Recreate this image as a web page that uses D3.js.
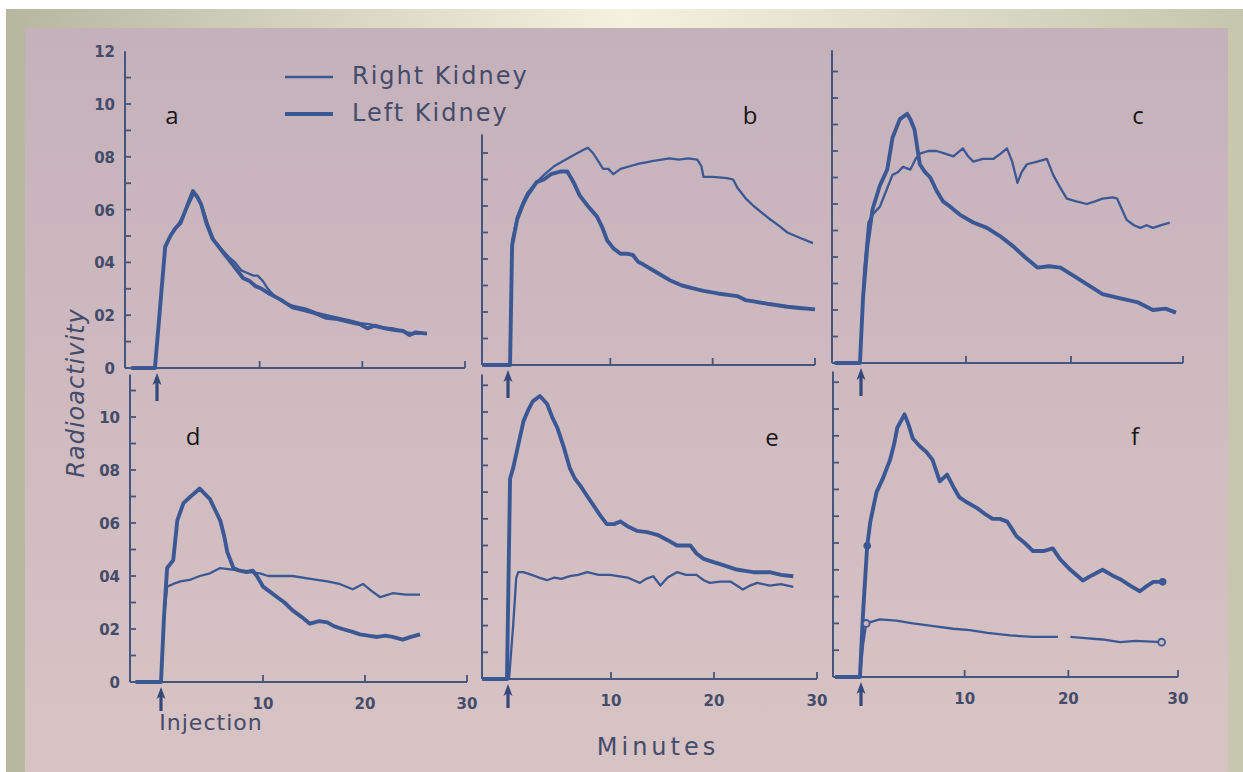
<!DOCTYPE html>
<html>
<head>
<meta charset="utf-8">
<script src="https://cdn.jsdelivr.net/npm/d3@7"></script>
<style>
  body { margin: 0; background: #fff; }
  svg { display: block; }
</style>
</head>
<body>
<div id="chart-area"></div>
<script>
// renogram panels a-f : [minutes, radioactivity]
const aRight = [[-2.5,0],[-0.2,0],[0.8,0.45],[1.4,0.51],[2.0,0.54],[2.6,0.58],[3.1,0.62],[3.6,0.66],[4.0,0.64],[4.5,0.60],[5.0,0.54],[5.6,0.48],[6.3,0.45],[7.0,0.42],[7.6,0.40],[8.2,0.37],[8.8,0.36],[9.4,0.35],[9.8,0.35],[10.3,0.33],[10.8,0.30],[11.5,0.27],[12.3,0.25],[13.3,0.235],[14.5,0.225],[15.5,0.21],[16.5,0.20],[17.7,0.19],[18.8,0.18],[19.8,0.17],[20.8,0.165],[21.8,0.155],[23.0,0.15],[24.2,0.135],[25.3,0.13],[26.3,0.13]]
const aLeft = [[-2.5,0],[-0.2,0],[0.8,0.46],[1.3,0.50],[1.8,0.53],[2.3,0.55],[2.8,0.60],[3.2,0.64],[3.5,0.67],[3.9,0.65],[4.3,0.62],[4.8,0.55],[5.4,0.49],[6.0,0.46],[6.6,0.43],[7.2,0.40],[7.8,0.37],[8.4,0.34],[9.0,0.33],[9.6,0.31],[10.2,0.30],[11.0,0.28],[12.0,0.26],[13.2,0.23],[14.2,0.22],[15.2,0.21],[16.5,0.19],[17.6,0.185],[18.7,0.175],[19.8,0.165],[20.5,0.15],[21.2,0.16],[22.2,0.15],[23.0,0.145],[24.0,0.14],[24.6,0.125],[25.2,0.135],[26.3,0.13]]

const bRight = [[-2.5,0],[0.2,0],[0.4,0.47],[0.9,0.56],[1.4,0.61],[1.9,0.65],[2.8,0.69],[3.6,0.72],[4.5,0.75],[5.4,0.77],[6.3,0.79],[7.3,0.81],[7.8,0.82],[8.3,0.80],[8.8,0.77],[9.3,0.74],[9.8,0.74],[10.3,0.72],[11.0,0.74],[11.9,0.75],[12.8,0.76],[13.5,0.765],[14.2,0.77],[15.0,0.775],[15.8,0.78],[16.7,0.775],[17.6,0.78],[18.5,0.775],[18.9,0.75],[19.1,0.71],[20.0,0.71],[21.4,0.705],[22.0,0.70],[22.4,0.67],[23.2,0.63],[24.0,0.60],[24.8,0.575],[25.6,0.55],[26.5,0.525],[27.3,0.50],[28.5,0.48],[29.8,0.46]]
const bLeft = [[-2.5,0],[0.2,0],[0.4,0.45],[0.9,0.55],[1.4,0.60],[1.9,0.64],[2.8,0.69],[3.5,0.70],[4.2,0.72],[5.1,0.73],[5.8,0.73],[6.4,0.69],[7.0,0.64],[7.8,0.60],[8.7,0.56],[9.2,0.52],[9.7,0.47],[10.3,0.44],[11.0,0.42],[11.6,0.42],[12.2,0.415],[12.7,0.39],[13.2,0.38],[14.5,0.35],[15.8,0.32],[17.0,0.30],[18.0,0.29],[19.1,0.28],[20.5,0.27],[22.4,0.26],[23.2,0.245],[24.0,0.24],[25.5,0.23],[27.3,0.22],[28.5,0.215],[30.0,0.21]]

const cRight = [[-2.5,0],[-0.1,0],[0.3,0.35],[0.7,0.53],[1.1,0.56],[1.8,0.59],[2.4,0.65],[3.0,0.71],[3.5,0.72],[4.0,0.74],[4.7,0.73],[5.2,0.77],[5.6,0.79],[6.4,0.80],[7.2,0.80],[8.0,0.79],[8.8,0.78],[9.7,0.81],[10.2,0.78],[10.7,0.76],[11.6,0.77],[12.6,0.77],[13.3,0.79],[13.9,0.81],[14.4,0.76],[14.9,0.68],[15.3,0.72],[15.8,0.75],[16.8,0.76],[17.7,0.77],[18.3,0.71],[19.0,0.66],[19.6,0.62],[20.5,0.61],[21.5,0.60],[22.3,0.61],[23.0,0.62],[24.0,0.625],[24.4,0.62],[25.3,0.54],[26.0,0.52],[26.6,0.51],[27.2,0.52],[27.8,0.51],[28.6,0.52],[29.4,0.53]]
const cLeft = [[-2.5,0],[-0.1,0],[0.2,0.25],[0.6,0.44],[1.1,0.58],[1.8,0.67],[2.5,0.73],[3.0,0.85],[3.4,0.89],[3.7,0.92],[4.4,0.94],[4.7,0.92],[5.1,0.88],[5.6,0.75],[6.1,0.72],[6.6,0.70],[7.2,0.65],[7.8,0.61],[8.5,0.59],[9.4,0.56],[10.7,0.53],[12.0,0.51],[13.2,0.48],[14.5,0.44],[15.6,0.40],[16.8,0.36],[17.9,0.365],[19.0,0.36],[20.6,0.32],[21.8,0.29],[23.0,0.26],[24.6,0.245],[26.3,0.23],[27.8,0.20],[29.0,0.205],[30.0,0.19]]

const dRight = [[-2.5,0],[0,0],[0.3,0.25],[0.6,0.36],[1.2,0.37],[1.9,0.38],[2.8,0.385],[3.8,0.40],[4.8,0.41],[5.8,0.43],[6.8,0.425],[7.7,0.42],[8.7,0.415],[9.7,0.41],[10.5,0.40],[11.4,0.40],[12.9,0.40],[14.5,0.39],[16.3,0.38],[17.5,0.37],[18.8,0.35],[19.8,0.37],[20.6,0.345],[21.5,0.32],[22.7,0.335],[24.0,0.33],[25.4,0.33]]
const dLeft = [[-2.5,0],[0,0],[0.3,0.25],[0.6,0.43],[1.2,0.46],[1.6,0.61],[2.2,0.675],[2.9,0.70],[3.5,0.72],[3.8,0.73],[4.3,0.71],[4.8,0.69],[5.3,0.65],[5.8,0.61],[6.2,0.55],[6.5,0.49],[7.1,0.43],[7.7,0.42],[8.4,0.415],[9.0,0.42],[9.4,0.40],[10.0,0.36],[10.7,0.34],[11.4,0.32],[12.1,0.30],[12.9,0.27],[13.8,0.245],[14.6,0.22],[15.5,0.23],[16.3,0.225],[17.0,0.21],[17.8,0.20],[18.7,0.19],[19.5,0.18],[20.3,0.175],[21.2,0.17],[22.0,0.175],[22.7,0.17],[23.7,0.16],[24.5,0.17],[25.4,0.18]]

const eRight = [[-2.5,0],[0.1,0],[0.5,0.2],[0.8,0.38],[1.0,0.40],[1.5,0.40],[2.3,0.39],[3.0,0.38],[3.8,0.37],[4.5,0.38],[5.2,0.375],[6.0,0.385],[6.8,0.39],[7.7,0.40],[8.8,0.39],[9.9,0.39],[10.7,0.385],[11.6,0.38],[12.2,0.37],[12.8,0.36],[13.4,0.375],[14.1,0.385],[14.8,0.35],[15.5,0.38],[16.4,0.40],[17.3,0.39],[18.3,0.39],[19.0,0.37],[19.6,0.36],[20.6,0.365],[21.6,0.365],[22.2,0.35],[22.8,0.335],[23.5,0.35],[24.2,0.36],[25.4,0.35],[26.5,0.355],[27.7,0.345]]
const eLeft = [[-2.5,0],[-0.1,0],[0.0,0.25],[0.2,0.75],[0.5,0.79],[0.9,0.86],[1.5,0.965],[2.0,1.01],[2.4,1.04],[3.1,1.06],[3.8,1.03],[4.3,0.98],[4.8,0.94],[5.4,0.87],[6.0,0.79],[6.5,0.75],[7.0,0.725],[7.6,0.69],[8.3,0.65],[9.0,0.61],[9.6,0.58],[10.3,0.58],[10.9,0.59],[11.7,0.57],[12.5,0.555],[13.5,0.55],[14.5,0.54],[15.5,0.52],[16.4,0.50],[17.7,0.50],[18.3,0.47],[19.0,0.45],[19.8,0.44],[20.6,0.43],[21.4,0.42],[22.2,0.41],[23.0,0.405],[23.8,0.40],[25.4,0.40],[26.5,0.39],[27.7,0.385]]

const fRight = [[-2.5,0],[-0.1,0],[0.2,0.12],[0.5,0.20],[1.8,0.215],[3.4,0.21],[5.0,0.20],[7.0,0.19],[8.9,0.18],[10.5,0.175],[12.2,0.165],[14.4,0.155],[16.6,0.15],[18.0,0.15],[19.0,0.15],[19.5,null],[20.2,0.15],[21.6,0.145],[23.3,0.14],[24.2,0.135],[25.0,0.13],[26.5,0.135],[29.0,0.13]]
const fLeft = [[-2.5,0],[-0.1,0],[0.2,0.24],[0.6,0.49],[0.9,0.58],[1.5,0.69],[2.1,0.74],[2.8,0.81],[3.2,0.87],[3.5,0.93],[4.2,0.98],[4.6,0.94],[5.0,0.89],[5.7,0.86],[6.3,0.84],[6.9,0.81],[7.6,0.73],[8.3,0.755],[8.9,0.71],[9.5,0.67],[10.3,0.65],[11.2,0.63],[11.9,0.61],[12.7,0.59],[13.4,0.59],[14.1,0.58],[14.6,0.55],[15.0,0.525],[15.8,0.50],[16.6,0.47],[17.6,0.47],[18.5,0.48],[19.2,0.44],[20.2,0.40],[21.4,0.36],[22.3,0.38],[23.3,0.40],[24.2,0.38],[25.0,0.365],[26.0,0.34],[26.9,0.32],[27.6,0.34],[28.2,0.355],[29.1,0.355]]
const fLeftDots = [[0.6,0.49],[29.1,0.355]]
const fRightRings = [[0.5,0.20],[29.0,0.13]]

const yTickLabels = ["0","02","04","06","08","10","12"]
const yLabelValues = [0,0.2,0.4,0.6,0.8,1.0,1.2]
const xTickLabels = ["10","20","30"]
const legendNames = ["Right Kidney","Left Kidney"]

// panel geometry (pixels)
const panels = [
  { id:"a", right:aRight, left:aLeft, ax:125, inj:157, x30:465, xEnd:465, base:368, one:104, top:1.2, yLabels:true,  xLabels:false, lx:172, ly:124 },
  { id:"b", right:bRight, left:bLeft, ax:482, inj:508, x30:815, xEnd:815, base:365, one:100, top:0.87, yLabels:false, xLabels:false, lx:750, ly:124 },
  { id:"c", right:cRight, left:cLeft, ax:832, inj:861, x30:1176, xEnd:1183, base:363, one:98, top:1.18, yLabels:false, xLabels:false, lx:1138, ly:124 },
  { id:"d", right:dRight, left:dLeft, ax:130, inj:161, x30:467, xEnd:467, base:682, one:417, top:1.16, yLabels:true,  xLabels:true, lx:193, ly:445 },
  { id:"e", right:eRight, left:eLeft, ax:482, inj:508, x30:817, xEnd:817, base:679, one:412, top:1.14, yLabels:false, xLabels:true, lx:772, ly:446 },
  { id:"f", right:fRight, left:fLeft, ax:833, inj:861, x30:1172, xEnd:1178, base:677, one:409, top:1.14, yLabels:false, xLabels:true, lx:1135, ly:445 }
]

const INK = "#3b5894"
const AXIS = "#44557e"
const TEXT = "#434c6a"

const svg = d3.select("#chart-area").append("svg")
  .attr("width", 1243)
  .attr("height", 772)

// slide frame + photo background
const defs = svg.append("defs")
const fg = defs.append("linearGradient").attr("id", "frame")
fg.append("stop").attr("offset", "0").attr("stop-color", "#b7b7a0")
fg.append("stop").attr("offset", "0.5").attr("stop-color", "#f4f1de")
fg.append("stop").attr("offset", "1").attr("stop-color", "#c6c6ae")
const bg = defs.append("linearGradient").attr("id", "photo")
  .attr("x1", 0).attr("y1", 0).attr("x2", 0).attr("y2", 1)
bg.append("stop").attr("offset", "0").attr("stop-color", "#c5b1bb")
bg.append("stop").attr("offset", "1").attr("stop-color", "#d8c3c4")

svg.append("rect").attr("width", 1243).attr("height", 772).attr("fill", "#fff")
svg.append("rect").attr("x", 6).attr("y", 9).attr("width", 1237).attr("height", 763).attr("fill", "url(#frame)")
svg.append("rect").attr("x", 25).attr("y", 28).attr("width", 1203).attr("height", 744).attr("fill", "url(#photo)")

panels.forEach(p => {
  const x = d3.scaleLinear().domain([0, 30]).range([p.inj, p.x30])
  const y = d3.scaleLinear().domain([0, 1]).range([p.base, p.one])
  const g = svg.append("g").attr("class", "panel-" + p.id)

  // y axis
  g.append("line")
    .attr("x1", p.ax).attr("x2", p.ax)
    .attr("y1", p.base).attr("y2", y(p.top))
    .attr("stroke", AXIS).attr("stroke-width", 2)
  const yt = d3.range(1, 12).map(d => d / 10).filter(d => d < p.top - 0.03)
  g.selectAll(".yt").data(yt).enter().append("line")
    .attr("x1", p.ax).attr("x2", p.ax + 6)
    .attr("y1", d => y(d)).attr("y2", d => y(d))
    .attr("stroke", AXIS).attr("stroke-width", 1.8)
  if (p.yLabels) {
    g.selectAll(".yl").data(yLabelValues.filter(v => v <= p.top + 0.01)).enter().append("text")
      .attr("x", p.ax - 10).attr("y", d => y(d) + 6)
      .attr("text-anchor", "end")
      .attr("font-family", "DejaVu Sans").attr("font-weight", "bold").attr("font-size", 15)
      .attr("fill", TEXT)
      .text(d => yTickLabels[yLabelValues.indexOf(d)])
  }

  // x axis
  g.append("line")
    .attr("x1", p.ax).attr("x2", p.xEnd)
    .attr("y1", p.base).attr("y2", p.base)
    .attr("stroke", AXIS).attr("stroke-width", 2)
  const xt = [x(10), x(20), p.xEnd]
  g.selectAll(".xt").data(xt).enter().append("line")
    .attr("x1", d => d).attr("x2", d => d)
    .attr("y1", p.base).attr("y2", p.base - 7)
    .attr("stroke", AXIS).attr("stroke-width", 1.8)
  if (p.xLabels) {
    g.selectAll(".xl").data(xt).enter().append("text")
      .attr("x", d => d).attr("y", p.base + 27)
      .attr("text-anchor", "middle")
      .attr("font-family", "DejaVu Sans").attr("font-weight", "bold").attr("font-size", 15)
      .attr("fill", TEXT)
      .text((d, i) => xTickLabels[i])
  }

  // injection arrow
  const ax0 = x(0), tip = p.base + 5
  const len = p.xLabels ? 24 : 28
  g.append("path")
    .attr("d", `M${ax0},${tip} L${ax0 + 4.5},${tip + 12} L${ax0 + 1.6},${tip + 10} L${ax0 + 1.6},${tip + len} L${ax0 - 1.6},${tip + len} L${ax0 - 1.6},${tip + 10} L${ax0 - 4.5},${tip + 12} Z`)
    .attr("fill", "#34497a")

  const line = d3.line()
    .defined(d => d[1] != null)
    .x(d => x(d[0])).y(d => y(d[1]))

  g.append("path").datum(p.right)
    .attr("d", line).attr("fill", "none")
    .attr("stroke", INK).attr("stroke-width", 2.3)
    .attr("stroke-linejoin", "round")
  g.append("path").datum(p.left)
    .attr("d", line).attr("fill", "none")
    .attr("stroke", INK).attr("stroke-width", 3.9)
    .attr("stroke-linejoin", "round")

  if (p.id === "f") {
    g.selectAll(".dot").data(fLeftDots).enter().append("circle")
      .attr("cx", d => x(d[0])).attr("cy", d => y(d[1])).attr("r", 3.8)
      .attr("fill", INK)
    g.selectAll(".ring").data(fRightRings).enter().append("circle")
      .attr("cx", d => x(d[0])).attr("cy", d => y(d[1])).attr("r", 3.4)
      .attr("fill", "#cdbabf").attr("stroke", INK).attr("stroke-width", 1.8)
  }

  g.append("text")
    .attr("x", p.lx).attr("y", p.ly)
    .attr("text-anchor", "middle")
    .attr("font-family", "Open Sans").attr("font-size", 24)
    .attr("fill", "#161616")
    .text(p.id)
})

// legend
const legend = svg.append("g")
legend.selectAll("line").data(legendNames).enter().append("line")
  .attr("x1", 285).attr("x2", 333)
  .attr("y1", (d, i) => i ? 114 : 77).attr("y2", (d, i) => i ? 114 : 77)
  .attr("stroke", INK).attr("stroke-width", (d, i) => i ? 4.2 : 2.4)
legend.selectAll("text").data(legendNames).enter().append("text")
  .attr("x", 352).attr("y", (d, i) => i ? 121 : 84)
  .attr("font-family", "DejaVu Sans").attr("font-size", 24)
  .attr("letter-spacing", 2)
  .attr("fill", TEXT)
  .text(d => d)

// axis titles
svg.append("text")
  .attr("transform", "translate(84,393) rotate(-90)")
  .attr("text-anchor", "middle")
  .attr("font-family", "DejaVu Sans").attr("font-style", "italic").attr("font-size", 24)
  .attr("letter-spacing", 1)
  .attr("fill", TEXT)
  .text("Radioactivity")

svg.append("text")
  .attr("x", 211).attr("y", 730)
  .attr("text-anchor", "middle")
  .attr("font-family", "DejaVu Sans").attr("font-size", 22)
  .attr("letter-spacing", 1)
  .attr("fill", TEXT)
  .text("Injection")

svg.append("text")
  .attr("x", 658).attr("y", 755)
  .attr("text-anchor", "middle")
  .attr("font-family", "DejaVu Sans").attr("font-size", 24)
  .attr("letter-spacing", 4)
  .attr("fill", TEXT)
  .text("Minutes")
</script>
</body>
</html>
